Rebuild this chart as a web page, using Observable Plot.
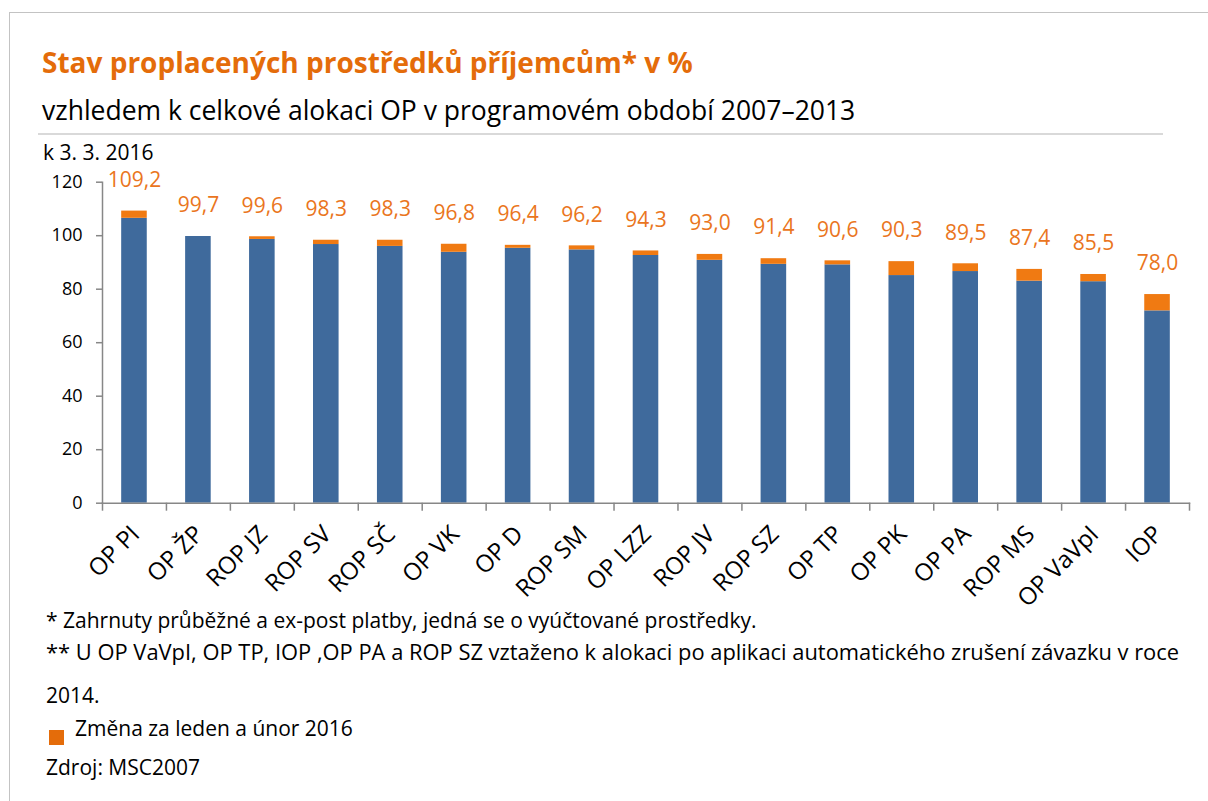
<!DOCTYPE html>
<html>
<head>
<meta charset="utf-8">
<script src="https://cdn.jsdelivr.net/npm/d3@7"></script>
<script src="https://cdn.jsdelivr.net/npm/@observablehq/plot@0.6"></script>
<style>
  html, body { margin: 0; padding: 0; background: #fff; }
  body { width: 1208px; height: 801px; position: relative; overflow: hidden; font-family: "Open Sans", "Noto Sans", sans-serif; color: #000; }
  .abs { position: absolute; white-space: nowrap; }
  #frame { position: absolute; left: 9px; top: 12px; width: 1199px; height: 800px; border-left: 1px solid #c3c3c3; border-top: 1px solid #c3c3c3; }
  #title { left: 42px; top: 43px; font-size: 28px; font-weight: bold; color: #E46C0A; line-height: 38px; }
  #subtitle { left: 42px; top: 91px; font-size: 26.5px; line-height: 38px; }
  #rule { position: absolute; left: 38px; top: 133px; width: 1125px; height: 2px; background: #d9d9d9; }
  #date { left: 43px; top: 137px; font-size: 21px; line-height: 30px; }
  #chart { position: absolute; left: 0; top: 140px; }
  .note { left: 46px; font-size: 21px; line-height: 28px; }
  #sw { position: absolute; left: 49px; top: 730px; width: 15px; height: 15px; background: #E46C0A; }
</style>
</head>
<body>
<div id="frame"></div>
<div id="title" class="abs">Stav proplacených prostředků příjemcům* v %</div>
<div id="subtitle" class="abs">vzhledem k celkové alokaci OP v programovém období 2007–2013</div>
<div id="rule"></div>
<div id="date" class="abs">k 3. 3. 2016</div>
<div id="chart"></div>
<div class="abs note" style="top:606px">* Zahrnuty průběžné a ex-post platby, jedná se o vyúčtované prostředky.</div>
<div class="abs note" style="top:638px; font-size:21.9px">** U OP VaVpI, OP TP, IOP ,OP PA a ROP SZ vztaženo k alokaci po aplikaci automatického zrušení závazku v roce</div>
<div class="abs note" style="top:681px">2014.</div>
<div id="sw"></div>
<div class="abs note" style="top:714px; left:75px">Změna za leden a únor 2016</div>
<div class="abs note" style="top:753px">Zdroj: MSC2007</div>
<script>
// ---- data ----
const categories = ["OP PI","OP ŽP","ROP JZ","ROP SV","ROP SČ","OP VK","OP D","ROP SM","OP LZZ","ROP JV","ROP SZ","OP TP","OP PK","OP PA","ROP MS","OP VaVpI","IOP"];
const totals = [109.2,99.7,99.6,98.3,98.3,96.8,96.4,96.2,94.3,93.0,91.4,90.6,90.3,89.5,87.4,85.5,78.0];
const baseValues = [106.5,99.7,98.6,96.7,96.0,93.8,95.3,94.7,92.6,90.8,89.3,89.1,85.1,86.6,83.0,82.8,71.9];
const yTicks = [0,20,40,60,80,100,120];

const rows = categories.map((c,i) => ({cat: c, base: baseValues[i], total: totals[i]}));

const blue = "#3F6A9C", orange = "#F07A12", labelOrange = "#EA7520", axisGray = "#878787";
const W = 1208, H = 490, mL = 102, mR = 19;
const bw = (W - mL - mR) / categories.length;
const fmt = v => v.toFixed(1).replace(".", ",");

const chart = Plot.plot({
  width: W, height: H,
  marginLeft: mL, marginRight: mR, marginTop: 41.7, marginBottom: 127.3,
  x: {domain: categories, paddingInner: 0.6, paddingOuter: 0.3, round: false, axis: null, label: null},
  y: {domain: [0, 120], axis: null, label: null},
  style: {fontFamily: "'Open Sans', 'Noto Sans', sans-serif", fontSize: "18px", color: "#000", background: "transparent"},
  marks: [
    Plot.barY(rows, {x: "cat", y1: 0, y2: "base", fill: blue}),
    Plot.barY(rows, {x: "cat", y1: "base", y2: "total", fill: orange}),
    Plot.frame({anchor: "left", stroke: axisGray, strokeWidth: 1.5}),
    Plot.frame({anchor: "bottom", stroke: axisGray, strokeWidth: 1.5}),
    Plot.axisY({ticks: yTicks, tickSize: 6, tickPadding: 14, stroke: axisGray, strokeWidth: 1.5, fontSize: 18, label: null}),
    Plot.axisX({tickSize: 8, tickFormat: () => "", dx: -bw / 2, stroke: axisGray, strokeWidth: 1.5, label: null}),
    Plot.axisX({ticks: [categories[categories.length - 1]], tickSize: 8, tickFormat: () => "", dx: bw / 2, stroke: axisGray, strokeWidth: 1.5, label: null}),
    Plot.axisX({tickSize: 0, tickRotate: -45, tickPadding: 27, dx: 1, fontSize: 24, label: null}),
    Plot.text(rows, {x: "cat", y: "total", text: d => fmt(d.total), dy: -31, fill: labelOrange, fontSize: 21})
  ]
});
document.getElementById("chart").appendChild(chart);
</script>
</body>
</html>
